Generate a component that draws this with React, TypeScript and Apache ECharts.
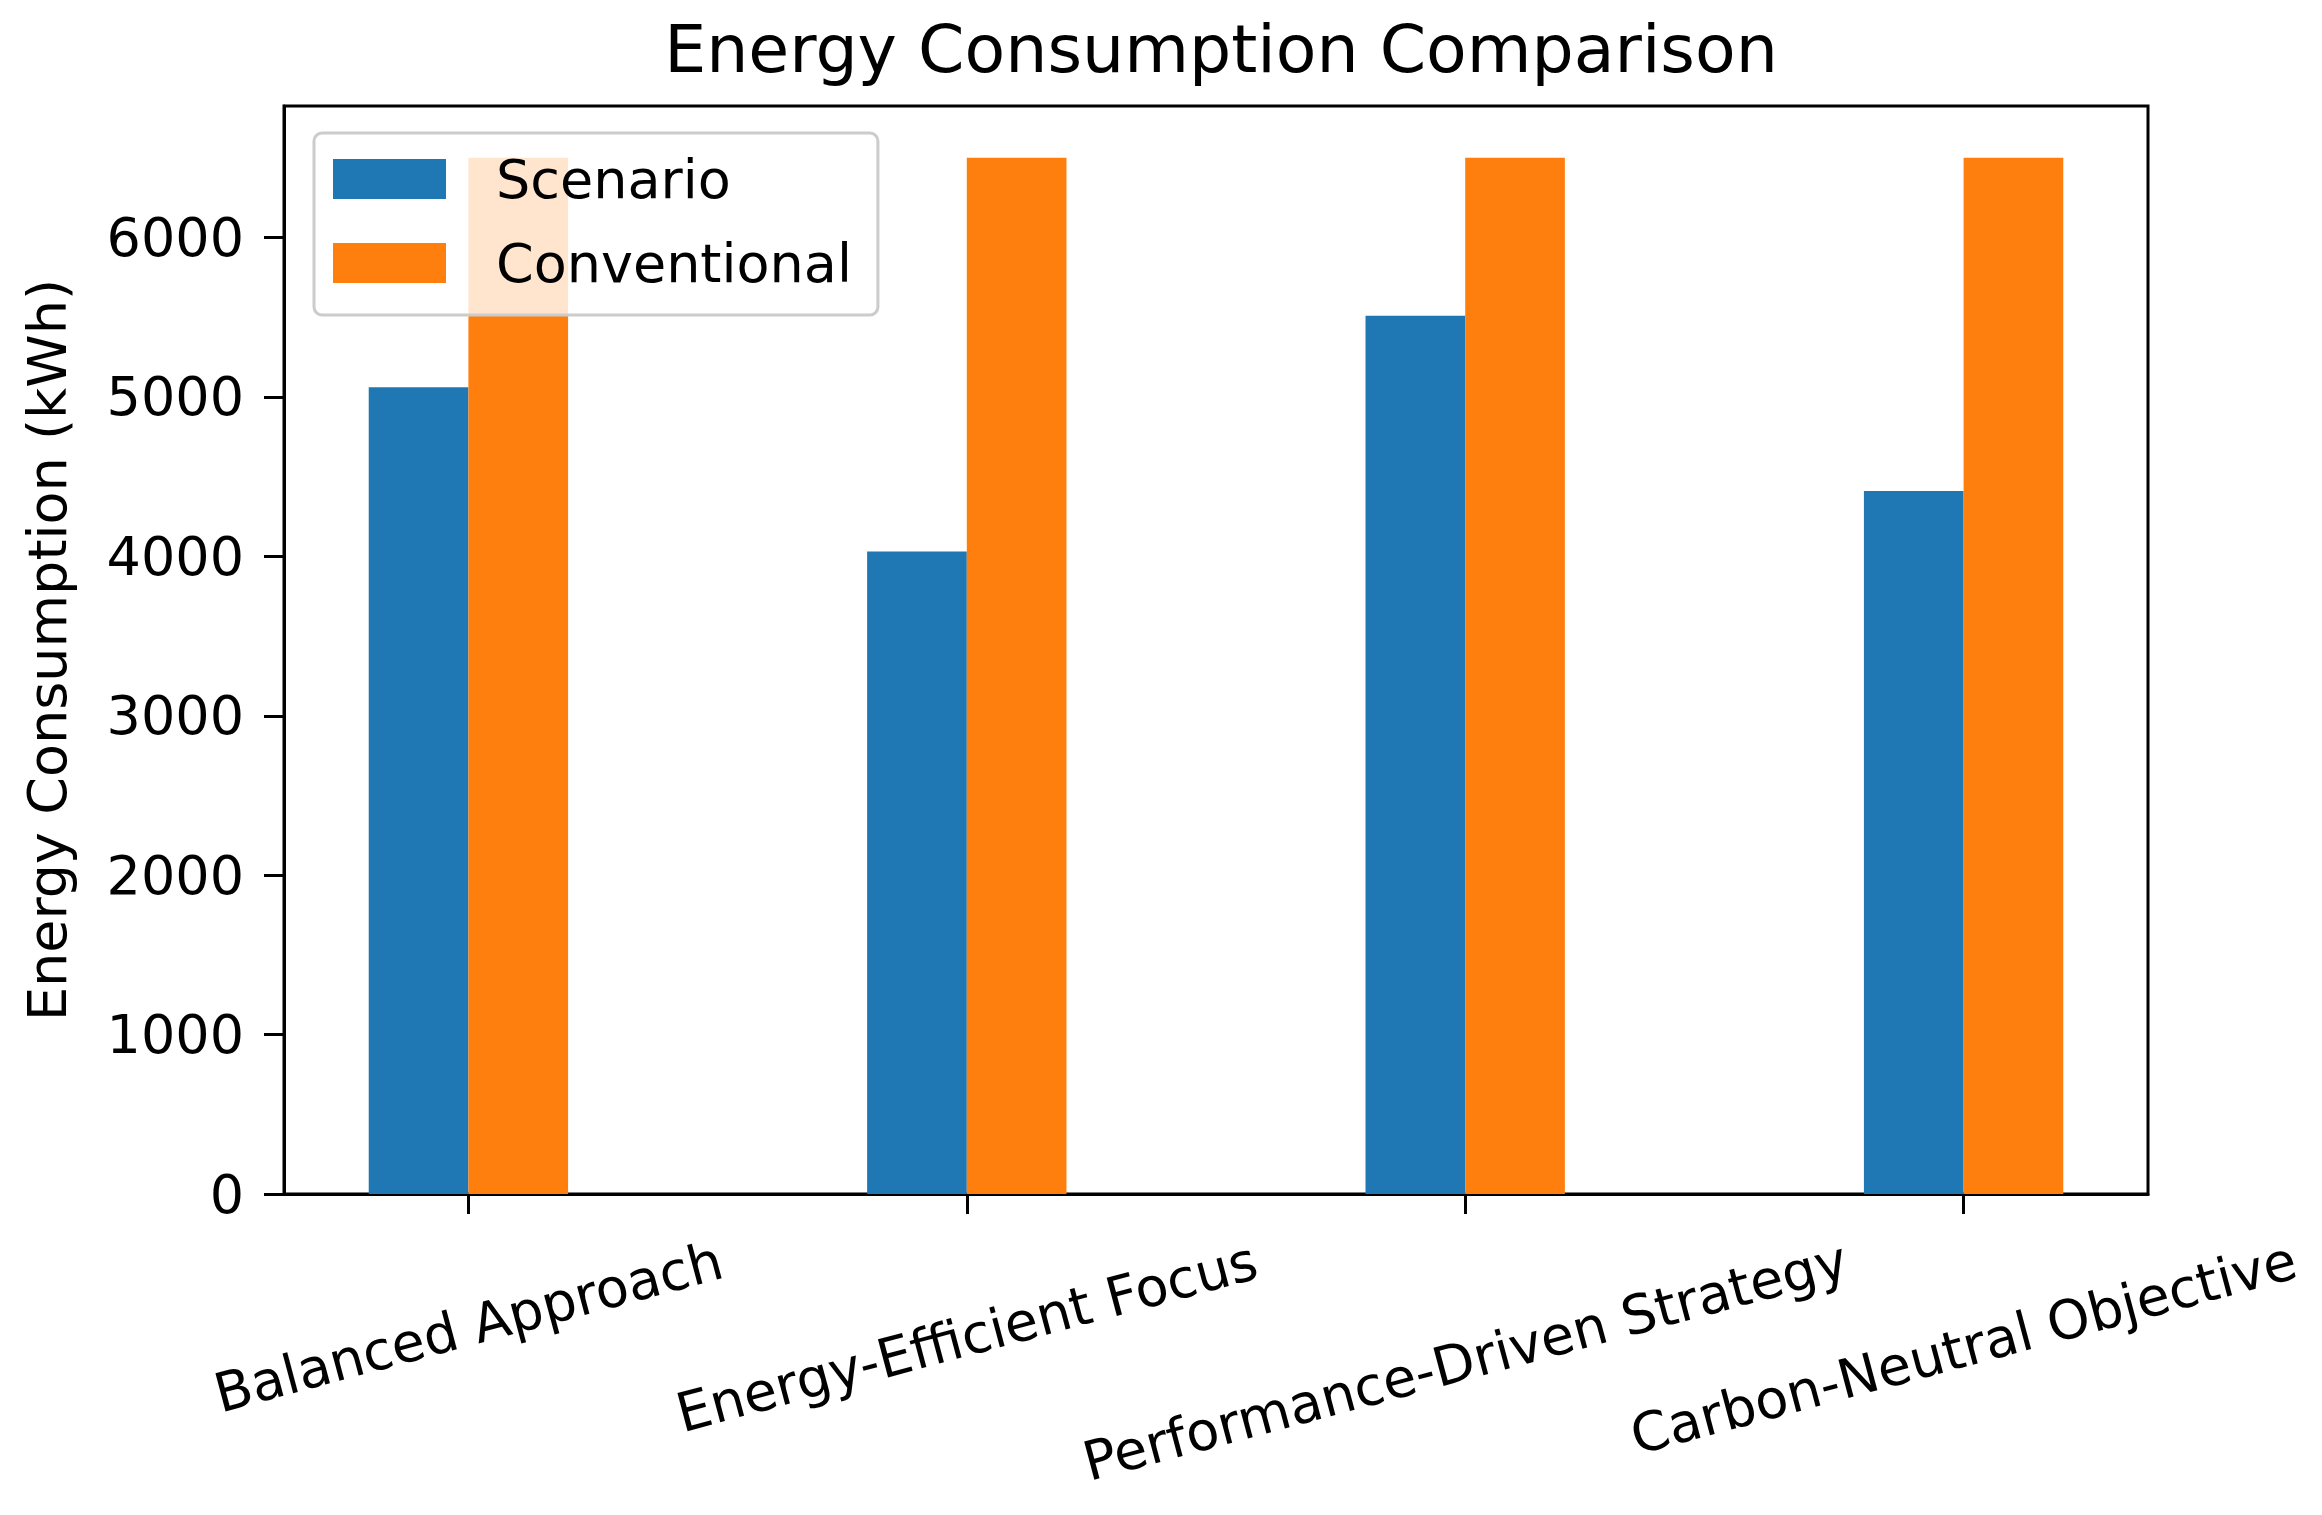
import React, { useEffect, useRef } from "react";
import * as echarts from "echarts";

const categories = [
  "Balanced Approach",
  "Energy-Efficient Focus",
  "Performance-Driven Strategy",
  "Carbon-Neutral Objective",
];
const categoryPositions = [0, 1, 2, 3];
const scenarioValues = [5060, 4030, 5510, 4410];
const conventionalValues = [6500, 6500, 6500, 6500];
const yTicks = [0, 1000, 2000, 3000, 4000, 5000, 6000];
const seriesNames = ["Scenario", "Conventional"];

const X_MIN = -0.37;
const X_MAX = 3.37;
const Y_MAX = 6825;

const FONT = "DejaVu Sans";

export default function App() {
  const ref = useRef<HTMLDivElement>(null);

  useEffect(() => {
    if (!ref.current) return;
    const chart = echarts.init(ref.current, undefined, { renderer: "svg" });

    const W = 2322;
    const gridLeft = 284;
    const gridRight = 174;
    const plotW = W - gridLeft - gridRight;
    const barW = (0.2 * plotW) / (X_MAX - X_MIN);

    // per-label padding to mimic matplotlib rotated label box alignment (top-aligned)
    const rich: Record<string, any> = {};
    const extras = [0, 10, 34, 21];
    const ang = (15 * Math.PI) / 180;
    extras.forEach((e, i) => {
      rich["l" + i] = {
        fontSize: 54,
        fontFamily: FONT,
        color: "#000",
        padding: [2 * e * Math.cos(ang), 2 * e * Math.sin(ang), 0, 0],
      };
    });

    chart.setOption({
      animation: false,
      backgroundColor: "#fff",
      textStyle: { fontFamily: FONT, color: "#000" },
      title: {
        text: "Energy Consumption Comparison",
        left: gridLeft + plotW / 2,
        textAlign: "center",
        top: 10,
        textStyle: { fontFamily: FONT, fontSize: 66.5, fontWeight: "normal", color: "#000" },
      },
      legend: {
        orient: "vertical",
        left: 314,
        top: 133,
        data: seriesNames,
        itemWidth: 113,
        itemHeight: 40,
        itemGap: 30,
        padding: [19, 26, 25, 19],
        backgroundColor: "rgba(255,255,255,0.8)",
        borderColor: "#cccccc",
        borderWidth: 3,
        borderRadius: 8,
        icon: "rect",
        textStyle: {
          fontFamily: FONT,
          fontSize: 54,
          lineHeight: 54,
          color: "#000",
          padding: [0, 0, 0, 45],
        },
      },
      grid: {
        left: gridLeft,
        right: gridRight,
        top: 106,
        bottom: 321,
        show: true,
        borderColor: "#000",
        borderWidth: 3,
        backgroundColor: "transparent",
      },
      xAxis: {
        type: "value",
        min: X_MIN,
        max: X_MAX,
        splitLine: { show: false },
        axisLine: { show: true, onZero: false, lineStyle: { color: "#000", width: 3 } },
        axisTick: {
          show: true,
          length: 20,
          customValues: categoryPositions,
          lineStyle: { color: "#000", width: 3 },
        },
        axisLabel: {
          customValues: categoryPositions,
          rotate: 15,
          align: "center",
          verticalAlign: "middle",
          margin: 133,
          fontSize: 54,
          fontFamily: FONT,
          color: "#000",
          formatter: (v: number) => {
            const i = Math.round(v);
            return `{l${i}|${categories[i]}}`;
          },
          rich,
        },
      },
      yAxis: {
        type: "value",
        min: 0,
        max: Y_MAX,
        name: "Energy Consumption (kWh)",
        nameLocation: "middle",
        nameGap: 210,
        nameTextStyle: { fontFamily: FONT, fontSize: 54, color: "#000" },
        splitLine: { show: false },
        axisLine: { show: true, onZero: false, lineStyle: { color: "#000", width: 3 } },
        axisTick: {
          show: true,
          length: 20,
          customValues: yTicks,
          lineStyle: { color: "#000", width: 3 },
        },
        axisLabel: {
          customValues: yTicks,
          margin: 40,
          fontSize: 54,
          fontFamily: FONT,
          color: "#000",
          formatter: (v: number) => String(Math.round(v)),
        },
      },
      series: [
        {
          name: seriesNames[0],
          type: "bar",
          barWidth: barW,
          barGap: "0%",
          itemStyle: { color: "#1f77b4" },
          data: categoryPositions.map((x, i) => [x, scenarioValues[i]]),
        },
        {
          name: seriesNames[1],
          type: "bar",
          barWidth: barW,
          barGap: "0%",
          itemStyle: { color: "#ff7f0e" },
          data: categoryPositions.map((x, i) => [x, conventionalValues[i]]),
        },
      ],
    });

    return () => chart.dispose();
  }, []);

  return (
    <div
      ref={ref}
      style={{ position: "absolute", left: 0, top: 0, width: 2322, height: 1515 }}
    />
  );
}
